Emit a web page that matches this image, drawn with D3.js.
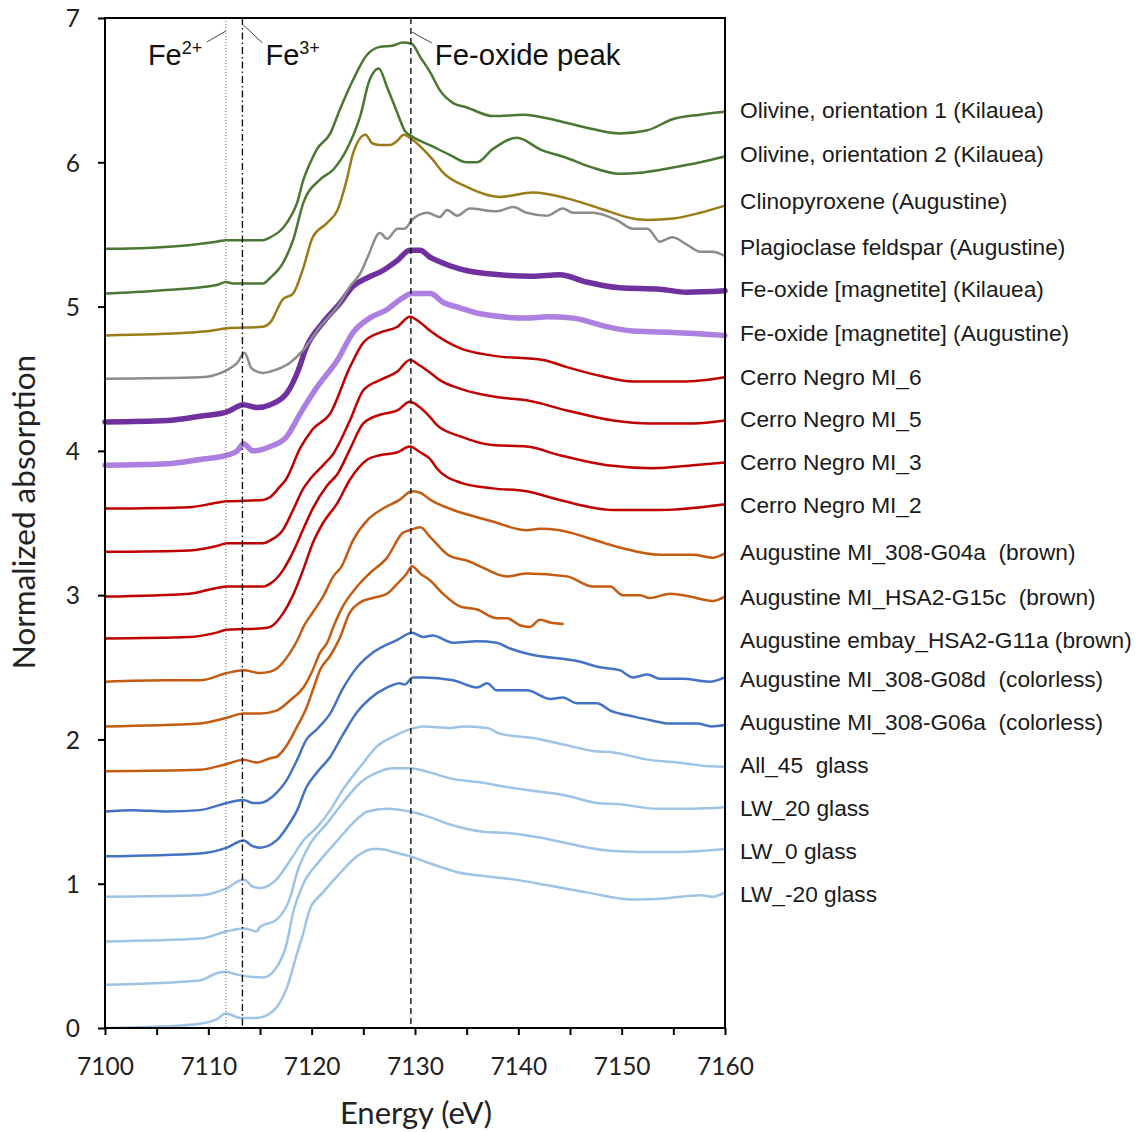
<!DOCTYPE html>
<html><head><meta charset="utf-8">
<script src="https://cdn.jsdelivr.net/npm/d3@7"></script>
<style>body{margin:0;background:#fff}</style>
</head><body>
<svg id="chart" width="1141" height="1132"></svg>
<script>
// ---------- data ----------
const xTickValues = [7100,7105,7110,7115,7120,7125,7130,7135,7140,7145,7150,7155,7160];
const xLabelValues = [7100,7110,7120,7130,7140,7150,7160];
const yTickValues = [0,1,2,3,4,5,6,7];
const refEnergies = [7111.7, 7113.3, 7129.6]; // Fe2+, Fe3+, Fe-oxide peak

const olivine1 = [[7100,5.40],[7105,5.41],[7110.8,5.45],[7111.7,5.46],[7115.3,5.46],[7116.0,5.48],[7117.6,5.58],[7118.6,5.72],[7119.2,5.88],[7119.7,5.97],[7120.5,6.09],[7121.8,6.20],[7122.7,6.36],[7124.0,6.57],[7125.3,6.74],[7126.6,6.80],[7127.9,6.81],[7128.8,6.83],[7129.7,6.82],[7130.5,6.73],[7131.5,6.62],[7132.4,6.50],[7133.7,6.41],[7135.0,6.38],[7137.6,6.32],[7140.5,6.33],[7143.7,6.29],[7146.6,6.24],[7149.8,6.20],[7152.4,6.22],[7155.0,6.30],[7157.6,6.33],[7160,6.35]];
const olivine2 = [[7100,5.09],[7105,5.11],[7110.8,5.15],[7111.7,5.17],[7112.4,5.16],[7115.3,5.16],[7116.0,5.20],[7117.2,5.30],[7118.2,5.46],[7119.2,5.72],[7120.8,5.88],[7122.1,5.95],[7123.4,6.09],[7124.7,6.32],[7125.6,6.57],[7126.5,6.65],[7127.3,6.52],[7128.3,6.34],[7129.0,6.22],[7129.7,6.18],[7131.7,6.11],[7133.4,6.05],[7135.0,6.00],[7136.0,6.00],[7137.5,6.09],[7139.9,6.17],[7142.1,6.09],[7144.7,6.03],[7146.9,5.97],[7149.8,5.92],[7152.1,5.93],[7154.7,5.96],[7157.6,6.00],[7160,6.04]];
const clinopyroxene = [[7100,4.80],[7108.2,4.82],[7110.1,4.83],[7111.8,4.85],[7115.3,4.86],[7116.0,4.89],[7117.2,5.05],[7118.2,5.09],[7119.2,5.27],[7120.1,5.48],[7121.5,5.58],[7122.5,5.67],[7123.4,5.88],[7124.0,6.06],[7125.2,6.19],[7125.9,6.13],[7126.6,6.12],[7127.6,6.12],[7128.3,6.15],[7128.9,6.19],[7129.7,6.16],[7130.8,6.09],[7131.7,6.02],[7132.7,5.93],[7135.0,5.83],[7138.2,5.76],[7141.4,5.79],[7144.7,5.75],[7147.9,5.68],[7151.1,5.61],[7152.5,5.60],[7155.0,5.61],[7157.6,5.65],[7160,5.70]];
const plagioclase = [[7100,4.50],[7109.2,4.51],[7111.8,4.56],[7112.8,4.61],[7113.5,4.68],[7114.2,4.57],[7115.3,4.54],[7116.0,4.55],[7117.9,4.61],[7119.2,4.70],[7120.8,4.86],[7122.5,5.00],[7123.7,5.14],[7124.7,5.23],[7125.4,5.34],[7126.6,5.51],[7127.3,5.47],[7128.3,5.54],[7129.0,5.54],[7129.7,5.60],[7131.2,5.65],[7132.4,5.62],[7133.1,5.67],[7134.1,5.63],[7135.3,5.68],[7137.9,5.66],[7139.5,5.69],[7140.8,5.65],[7142.8,5.63],[7144.3,5.68],[7145.3,5.65],[7147.2,5.65],[7149.5,5.60],[7151.1,5.54],[7152.5,5.54],[7153.7,5.45],[7154.9,5.48],[7156.3,5.43],[7157.6,5.38],[7158.8,5.38],[7160,5.35]];
const feOxideKilauea = [[7100,4.20],[7106,4.21],[7109.2,4.24],[7111.8,4.27],[7113.4,4.32],[7114.7,4.30],[7116.0,4.32],[7117.6,4.40],[7118.6,4.54],[7119.5,4.72],[7121.1,4.89],[7122.7,5.02],[7124.0,5.14],[7125.4,5.20],[7126.9,5.25],[7128.3,5.32],[7129.5,5.39],[7130.5,5.39],[7131.5,5.34],[7132.1,5.32],[7134.4,5.26],[7138.2,5.22],[7141.4,5.21],[7144.0,5.22],[7146.6,5.17],[7149.8,5.13],[7153.7,5.12],[7156.3,5.10],[7160,5.11]];
const feOxideAugustine = [[7100,3.90],[7106,3.91],[7109.2,3.94],[7111.8,3.97],[7112.8,4.00],[7113.4,4.05],[7114.3,4.00],[7116.0,4.03],[7117.6,4.10],[7118.9,4.26],[7120.5,4.44],[7122.5,4.63],[7124.0,4.82],[7125.6,4.92],[7127.3,4.98],[7128.8,5.06],[7129.7,5.09],[7131.5,5.09],[7132.7,5.03],[7134.4,4.99],[7136.3,4.95],[7140.8,4.92],[7142.8,4.93],[7145.3,4.92],[7148.6,4.86],[7151.1,4.83],[7155.0,4.82],[7160,4.80]];
const cerroNegro6 = [[7100,3.60],[7108.2,3.61],[7110.8,3.64],[7111.8,3.65],[7115.3,3.66],[7116.0,3.68],[7116.9,3.75],[7117.5,3.80],[7118.9,4.02],[7120.1,4.15],[7121.8,4.26],[7123.7,4.58],[7125.0,4.75],[7126.6,4.82],[7128.3,4.86],[7129.5,4.93],[7130.5,4.89],[7131.5,4.83],[7134.4,4.71],[7137.5,4.66],[7142.4,4.63],[7144.7,4.58],[7147.9,4.52],[7151.1,4.48],[7155.9,4.48],[7160,4.51]];
const cerroNegro5 = [[7100,3.30],[7108.2,3.31],[7110.8,3.34],[7111.8,3.36],[7115.3,3.36],[7116.0,3.38],[7117.2,3.45],[7118.2,3.59],[7119.2,3.74],[7119.8,3.80],[7121.1,3.90],[7122.1,3.98],[7123.7,4.21],[7125.0,4.42],[7126.6,4.49],[7128.3,4.55],[7129.5,4.63],[7130.5,4.59],[7131.5,4.54],[7132.4,4.49],[7134.4,4.43],[7138.2,4.37],[7140.8,4.35],[7144.7,4.28],[7149.2,4.21],[7152.7,4.19],[7156.9,4.19],[7160,4.21]];
const cerroNegro3 = [[7100,2.99],[7108.2,3.01],[7110.8,3.05],[7111.8,3.06],[7115.3,3.06],[7116.0,3.08],[7117.2,3.17],[7118.2,3.30],[7119.2,3.46],[7120.1,3.60],[7121.5,3.76],[7122.5,3.84],[7123.7,4.01],[7125.0,4.19],[7126.6,4.25],[7128.3,4.28],[7129.5,4.34],[7130.5,4.30],[7131.5,4.23],[7132.1,4.18],[7134.4,4.10],[7137.5,4.04],[7140.8,4.03],[7144.0,3.97],[7148.6,3.90],[7153.0,3.88],[7156.9,3.90],[7160,3.92]];
const cerroNegro2 = [[7100,2.70],[7108.2,2.71],[7110.8,2.74],[7111.8,2.76],[7115.3,2.77],[7116.0,2.78],[7117.2,2.87],[7118.2,3.00],[7119.2,3.18],[7120.1,3.36],[7121.1,3.50],[7122.5,3.64],[7123.7,3.80],[7125.4,3.94],[7126.6,3.97],[7128.3,3.99],[7129.5,4.03],[7130.5,3.99],[7131.5,3.94],[7132.1,3.88],[7134.4,3.78],[7137.5,3.74],[7140.8,3.72],[7144.0,3.66],[7149.2,3.59],[7153.7,3.59],[7160,3.63]];
const augG04a = [[7100,2.40],[7106,2.41],[7109.2,2.41],[7111.8,2.46],[7113.4,2.48],[7115.0,2.46],[7116.0,2.47],[7116.6,2.49],[7117.9,2.60],[7118.7,2.70],[7119.2,2.78],[7120.1,2.88],[7121.1,2.99],[7122.1,3.13],[7122.9,3.20],[7124.0,3.38],[7125.4,3.52],[7126.9,3.60],[7128.5,3.66],[7129.7,3.72],[7130.5,3.71],[7131.5,3.66],[7133.7,3.59],[7136.0,3.54],[7137.5,3.51],[7140.8,3.45],[7142.1,3.46],[7144.0,3.45],[7146.6,3.40],[7149.8,3.33],[7153.7,3.28],[7156.9,3.28],[7158.8,3.26],[7160,3.29]];
const augG15c = [[7100,2.09],[7109.2,2.11],[7111.8,2.15],[7113.4,2.18],[7115.0,2.18],[7116.6,2.20],[7117.9,2.27],[7119.2,2.36],[7120.1,2.48],[7120.8,2.60],[7121.5,2.67],[7122.1,2.78],[7123.0,2.92],[7124.4,3.06],[7125.6,3.15],[7127.3,3.26],[7128.8,3.43],[7129.5,3.45],[7130.5,3.47],[7131.5,3.40],[7133.4,3.27],[7135.0,3.24],[7136.3,3.20],[7138.9,3.13],[7140.8,3.15],[7144.7,3.13],[7147.2,3.06],[7148.9,3.06],[7150.1,3.00],[7151.8,3.00],[7152.7,2.98],[7154.7,3.01],[7156.6,2.99],[7158.8,2.96],[7160,2.99]];
const augEmbayG11a = [[7100,1.78],[7109.2,1.79],[7111.8,1.83],[7113.4,1.86],[7114.7,1.84],[7116.0,1.87],[7116.6,1.88],[7117.6,1.96],[7118.6,2.09],[7119.5,2.22],[7120.1,2.34],[7120.8,2.48],[7121.8,2.58],[7122.7,2.70],[7123.7,2.88],[7124.7,2.95],[7125.9,2.98],[7127.3,3.01],[7128.3,3.08],[7129.2,3.15],[7129.7,3.20],[7130.5,3.15],[7131.5,3.10],[7132.7,3.01],[7134.4,2.92],[7136.0,2.90],[7137.9,2.84],[7138.9,2.84],[7140.2,2.79],[7141.1,2.78],[7142.1,2.83],[7143.1,2.81],[7144.3,2.80]];
const augG08d = [[7100,1.50],[7102.7,1.51],[7106,1.50],[7109.2,1.51],[7111.8,1.56],[7113.4,1.58],[7114.3,1.56],[7115.0,1.56],[7116.6,1.63],[7117.6,1.72],[7118.6,1.86],[7119.5,2.00],[7120.5,2.07],[7121.8,2.18],[7123.0,2.35],[7124.4,2.50],[7125.9,2.60],[7128.3,2.69],[7129.7,2.74],[7130.8,2.71],[7131.7,2.72],[7133.7,2.67],[7136.0,2.68],[7137.9,2.67],[7139.2,2.63],[7141.1,2.59],[7145.9,2.54],[7147.9,2.50],[7149.8,2.48],[7151.1,2.43],[7152.5,2.45],[7153.7,2.42],[7155.9,2.42],[7158.5,2.40],[7160,2.43]];
const augG06a = [[7100,1.19],[7109.2,1.21],[7111.8,1.25],[7113.4,1.30],[7114.3,1.26],[7115.0,1.25],[7116.6,1.30],[7117.6,1.39],[7118.6,1.51],[7119.5,1.67],[7120.5,1.77],[7121.8,1.88],[7123.0,2.03],[7124.4,2.19],[7125.6,2.28],[7127.3,2.36],[7128.5,2.39],[7129.0,2.38],[7129.8,2.43],[7130.8,2.43],[7133.7,2.41],[7136.0,2.36],[7137.0,2.39],[7137.9,2.34],[7140.8,2.34],[7143.1,2.28],[7144.3,2.29],[7145.7,2.25],[7147.6,2.25],[7148.9,2.20],[7151.1,2.16],[7153.0,2.13],[7154.7,2.11],[7157.3,2.11],[7158.7,2.09],[7160,2.10]];
const all45 = [[7100,0.91],[7109.2,0.92],[7111.8,0.97],[7113.4,1.03],[7114.3,0.98],[7115.0,0.97],[7116.6,1.03],[7117.9,1.16],[7119.2,1.30],[7120.5,1.39],[7121.8,1.51],[7123.0,1.65],[7124.7,1.81],[7126.3,1.95],[7127.9,2.02],[7129.5,2.07],[7130.8,2.09],[7133.4,2.08],[7134.6,2.09],[7137.0,2.08],[7138.2,2.04],[7141.4,2.01],[7144.7,1.96],[7147.2,1.92],[7149.2,1.91],[7152.5,1.86],[7155.4,1.84],[7157.6,1.82],[7160,1.81]];
const lw20 = [[7100,0.60],[7109.2,0.62],[7111.8,0.67],[7113.4,0.69],[7114.7,0.67],[7115.0,0.70],[7116.6,0.75],[7117.9,0.90],[7118.6,1.08],[7119.8,1.27],[7121.5,1.42],[7123.0,1.56],[7124.7,1.70],[7126.3,1.77],[7127.9,1.80],[7129.5,1.80],[7131.5,1.77],[7133.4,1.73],[7136.6,1.70],[7138.9,1.67],[7140.8,1.65],[7144.7,1.61],[7147.6,1.56],[7149.8,1.55],[7153.4,1.52],[7156.9,1.52],[7160,1.53]];
const lw0 = [[7100,0.30],[7109.2,0.33],[7110.8,0.38],[7111.7,0.39],[7112.8,0.37],[7115.3,0.35],[7116.6,0.42],[7117.6,0.59],[7118.2,0.80],[7119.2,1.00],[7120.8,1.16],[7122.5,1.30],[7124.0,1.42],[7125.4,1.50],[7127.3,1.52],[7129.5,1.50],[7131.5,1.46],[7133.4,1.41],[7136.6,1.36],[7139.2,1.35],[7142.1,1.32],[7144.7,1.28],[7148.6,1.23],[7151.8,1.22],[7155.4,1.22],[7160,1.24]];
const lwMinus20 = [[7100,0.00],[7105.3,0.01],[7109.2,0.03],[7110.8,0.06],[7111.7,0.10],[7113.1,0.07],[7114.7,0.07],[7116.3,0.12],[7117.6,0.28],[7118.6,0.52],[7119.2,0.66],[7119.8,0.82],[7121.1,0.94],[7122.7,1.07],[7124.4,1.19],[7125.9,1.24],[7126.6,1.24],[7127.9,1.22],[7129.5,1.19],[7131.5,1.14],[7134.1,1.08],[7137.0,1.05],[7139.5,1.03],[7142.8,0.99],[7146.6,0.94],[7151.1,0.89],[7154.4,0.90],[7157.6,0.92],[7158.8,0.91],[7160,0.94]];

const seriesNames = [
  "Olivine, orientation 1 (Kilauea)",
  "Olivine, orientation 2 (Kilauea)",
  "Clinopyroxene (Augustine)",
  "Plagioclase feldspar (Augustine)",
  "Fe-oxide [magnetite] (Kilauea)",
  "Fe-oxide [magnetite] (Augustine)",
  "Cerro Negro MI_6",
  "Cerro Negro MI_5",
  "Cerro Negro MI_3",
  "Cerro Negro MI_2",
  "Augustine MI_308-G04a  (brown)",
  "Augustine MI_HSA2-G15c  (brown)",
  "Augustine embay_HSA2-G11a (brown)",
  "Augustine MI_308-G08d  (colorless)",
  "Augustine MI_308-G06a  (colorless)",
  "All_45  glass",
  "LW_20 glass",
  "LW_0 glass",
  "LW_-20 glass"
];
const seriesValues = [olivine1, olivine2, clinopyroxene, plagioclase, feOxideKilauea, feOxideAugustine,
  cerroNegro6, cerroNegro5, cerroNegro3, cerroNegro2, augG04a, augG15c, augEmbayG11a, augG08d, augG06a,
  all45, lw20, lw0, lwMinus20];

// ---------- styles / layout ----------
const seriesColors = ["#4a7731","#4a7731","#9b7b17","#8c8c8c","#7030a0","#ad7fe0",
  "#c00000","#c00000","#c00000","#c00000","#c55a11","#c55a11","#c55a11","#4472c4","#4472c4",
  "#9dc3e6","#9dc3e6","#9dc3e6","#9dc3e6"];
const seriesWidths = [2.5,2.5,2.5,2.5,5.5,5.5,2.5,2.5,2.5,2.5,2.5,2.5,2.5,2.5,2.5,2.5,2.5,2.5,2.5];
const legendY = [110,154,201,247,289,333,377,419,462,505,552,597,640,679,722,765,808,851,894];

const svg = d3.select("#chart");
const x = d3.scaleLinear().domain([7100,7160]).range([105,725]);
const y = d3.scaleLinear().domain([0,7]).range([1028,18]);

// series (bottom first so upper curves are drawn on top)
const line = d3.line().x(d => x(d[0])).y(d => y(d[1])).curve(d3.curveMonotoneX);
const order = d3.range(seriesValues.length).reverse();
svg.append("g").selectAll("path").data(order).join("path")
  .attr("d", i => line(seriesValues[i]))
  .attr("fill","none")
  .attr("stroke", i => seriesColors[i])
  .attr("stroke-width", i => seriesWidths[i])
  .attr("stroke-linejoin","round")
  .attr("stroke-linecap","round");

// reference lines
const refStyles = [
  {dash:"1,2", color:"#666", w:1},
  {dash:"7,3,1.5,3", color:"#111", w:1.4},
  {dash:"6,4", color:"#111", w:1.4}
];
svg.append("g").selectAll("line").data(refEnergies).join("line")
  .attr("x1", d => x(d)).attr("x2", d => x(d))
  .attr("y1", y(7)).attr("y2", y(0))
  .attr("stroke", (d,i) => refStyles[i].color)
  .attr("stroke-width", (d,i) => refStyles[i].w)
  .attr("stroke-dasharray", (d,i) => refStyles[i].dash);

// annotation leaders and labels
const ann = svg.append("g");
const lead = [
  [x(refEnergies[0]) - 19, 42, x(refEnergies[0]), 31],
  [x(refEnergies[1]) + 1, 25, x(refEnergies[1]) + 20, 43],
  [x(refEnergies[2]) + 1, 32, x(refEnergies[2]) + 21, 43]
];
ann.selectAll("line").data(lead).join("line")
  .attr("x1", d => d[0]).attr("y1", d => d[1]).attr("x2", d => d[2]).attr("y2", d => d[3])
  .attr("stroke","#444").attr("stroke-width",1);

const annFont = "'Liberation Sans', Arial, sans-serif";
function feLabel(xp, sup) {
  const t = ann.append("text").attr("x", xp).attr("y", 65)
    .attr("font-family",annFont).attr("font-size",29).attr("fill","#111");
  t.append("tspan").text("Fe");
  t.append("tspan").attr("font-size",18).attr("dy",-11).text(sup);
}
feLabel(x(refEnergies[0]) - 78, "2+");
feLabel(x(refEnergies[1]) + 23, "3+");
ann.append("text").attr("x", x(refEnergies[2]) + 24).attr("y", 65)
  .attr("font-family",annFont).attr("font-size",29.3).attr("fill","#111")
  .text("Fe-oxide peak");

// axes
const axFont = "Lato, Carlito, Calibri, sans-serif";
const gx = svg.append("g").attr("transform", `translate(0,${y(0)})`)
  .call(d3.axisBottom(x).tickValues(xTickValues).tickSize(7).tickSizeOuter(0)
    .tickFormat(d => xLabelValues.includes(d) ? String(d) : ""));
gx.select(".domain").remove();
gx.selectAll(".tick line").attr("stroke","#000").attr("stroke-width",2);
gx.selectAll(".tick text").attr("font-family",axFont).attr("font-size",24.5).attr("fill","#222")
  .attr("y",30).attr("dy","0.71em");

const gy = svg.append("g").attr("transform", `translate(${x(7100)},0)`)
  .call(d3.axisLeft(y).tickValues(yTickValues).tickSize(7).tickSizeOuter(0).tickFormat(d3.format("d")));
gy.select(".domain").remove();
gy.selectAll(".tick line").attr("stroke","#000").attr("stroke-width",2);
gy.selectAll(".tick text").attr("font-family",axFont).attr("font-size",24.5).attr("fill","#222")
  .attr("x",-25).attr("dy","0.36em");

// frame
svg.append("rect").attr("x", x(7100)).attr("y", y(7))
  .attr("width", x(7160) - x(7100)).attr("height", y(0) - y(7))
  .attr("fill","none").attr("stroke","#000").attr("stroke-width",2);

// axis titles
svg.append("text").attr("x", 416).attr("y", 1124).attr("text-anchor","middle")
  .attr("font-family",axFont).attr("font-size",31).attr("fill","#222").text("Energy (eV)");
svg.append("text").attr("transform","translate(35,512) rotate(-90)").attr("text-anchor","middle")
  .attr("font-family",axFont).attr("font-size",31.5).attr("fill","#222").text("Normalized absorption");

// series labels
svg.append("g").selectAll("text").data(seriesNames).join("text")
  .attr("x", 740).attr("y", (d,i) => legendY[i]).attr("dy","0.35em")
  .attr("font-family",annFont).attr("font-size",22.7).attr("fill","#1a1a1a")
  .style("white-space","pre")
  .text(d => d);
</script>
</body></html>
